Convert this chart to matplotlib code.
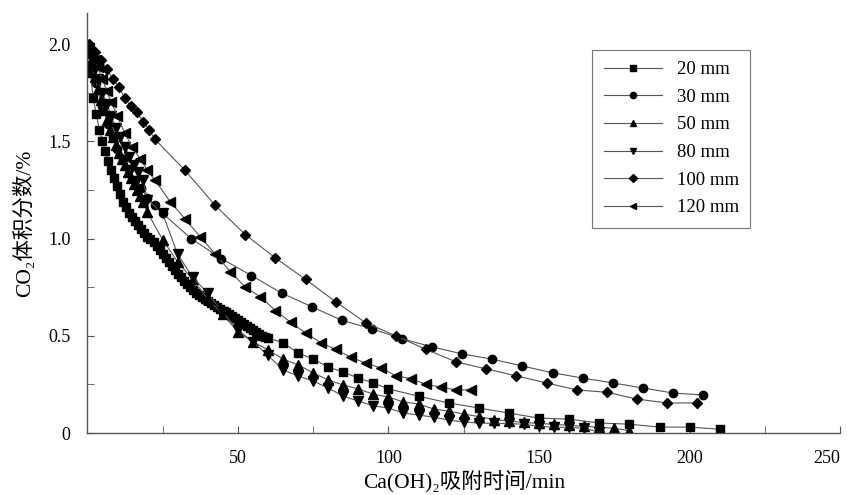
import numpy as np
import matplotlib.pyplot as plt
from matplotlib.ticker import MultipleLocator

plt.rcParams['font.family'] = ['Liberation Serif', 'Noto Sans CJK SC', 'DejaVu Sans']
plt.rcParams['font.size'] = 13

# 20 mm
t20 = [0.5, 1, 2, 3, 4, 5, 6, 7, 8, 9, 10, 11, 12, 13, 14, 15, 16, 17, 18, 19, 20,
       21, 22, 23, 24, 25, 26, 27, 28, 29, 30, 31, 32, 33, 34, 35, 36, 37, 38, 39, 40,
       41, 42, 43, 44, 45, 46, 47, 48, 49, 50, 51, 52, 53, 54, 55, 56, 57, 58, 59, 60,
       65, 70, 75, 80, 85, 90, 95, 100, 110, 120, 130, 140, 150, 160, 170, 180, 190, 200, 210]
c20 = [1.95, 1.85, 1.72, 1.64, 1.56, 1.50, 1.45, 1.40, 1.35, 1.31, 1.27, 1.23, 1.19, 1.16, 1.13,
       1.11, 1.09, 1.07, 1.05, 1.03, 1.01, 1.00, 0.98, 0.96, 0.94, 0.92, 0.90, 0.88, 0.86, 0.84,
       0.82, 0.80, 0.78, 0.765, 0.75, 0.735, 0.72, 0.71, 0.70, 0.69, 0.68, 0.67, 0.66, 0.65, 0.64,
       0.63, 0.62, 0.61, 0.60, 0.59, 0.58, 0.57, 0.56, 0.55, 0.54, 0.53, 0.52, 0.51, 0.50, 0.495, 0.49,
       0.464, 0.412, 0.381, 0.34, 0.314, 0.283, 0.258, 0.227, 0.19, 0.155, 0.129, 0.103, 0.077,
       0.072, 0.052, 0.046, 0.031, 0.031, 0.02]

# 30 mm
t30 = [0.5, 1.5, 3, 5, 7, 8.5, 10, 12, 14, 16, 18, 20, 22.5, 25, 34.5, 44.5, 54.5, 64.5, 74.5,
       84.5, 94.5, 104.5, 114.5, 124.5, 134.5, 144.5, 154.5, 164.5, 174.5, 184.5, 194.5, 204.5]
c30 = [1.98, 1.90, 1.80, 1.68, 1.59, 1.52, 1.46, 1.41, 1.36, 1.30, 1.26, 1.21, 1.17, 1.13, 1.0,
       0.897, 0.81, 0.72, 0.65, 0.58, 0.536, 0.485, 0.443, 0.407, 0.38, 0.345, 0.31, 0.283,
       0.258, 0.232, 0.206, 0.196]

# 50 mm
t50 = [0.5, 1.5, 2.5, 3.5, 4.5, 5.5, 6.5, 7.5, 8.5, 9.5, 10.5, 11.5, 12.5, 13.5, 14.5, 15.5,
       16.5, 17.5, 18.5, 20, 25, 30, 35, 40, 45, 50, 55, 60, 65, 70, 75, 80, 85, 90, 95, 100,
       105, 110, 115, 120, 125, 130, 135, 140, 145, 150, 155, 160, 165, 170, 175, 180]
c50 = [1.97, 1.90, 1.83, 1.77, 1.71, 1.66, 1.61, 1.56, 1.52, 1.48, 1.44, 1.41, 1.38, 1.34, 1.31,
       1.28, 1.25, 1.22, 1.19, 1.134, 0.995, 0.88, 0.79, 0.69, 0.61, 0.52, 0.47, 0.428, 0.381,
       0.35, 0.31, 0.273, 0.247, 0.227, 0.20, 0.186, 0.16, 0.15, 0.124, 0.113, 0.098, 0.085,
       0.07, 0.062, 0.055, 0.05, 0.045, 0.04, 0.035, 0.03, 0.025, 0.012]

# 80 mm
t80 = [0.5, 1.5, 2.5, 3.5, 5, 6.5, 8, 9.5, 11, 12.5, 14, 15.5, 17, 18.5, 20, 25, 30, 35, 40,
       45, 50, 55, 60, 65, 70, 75, 80, 85, 90, 95, 100, 105, 110, 115, 120, 125, 130, 135,
       140, 145, 150, 155, 160, 165, 170]
c80 = [1.98, 1.93, 1.87, 1.82, 1.75, 1.69, 1.63, 1.57, 1.52, 1.47, 1.42, 1.38, 1.34, 1.30, 1.20,
       1.13, 0.92, 0.80, 0.72, 0.62, 0.53, 0.47, 0.40, 0.325, 0.294, 0.268, 0.232, 0.19, 0.165,
       0.14, 0.129, 0.103, 0.093, 0.082, 0.067, 0.057, 0.052, 0.05, 0.05, 0.045, 0.036, 0.03,
       0.03, 0.025, 0.005]

# 100 mm
t100 = [0.5, 2.5, 4.5, 6.5, 8.5, 10.5, 12.5, 14.5, 16.5, 18.5, 20.5, 22.5, 32.5, 42.5, 52.5,
        62.5, 72.5, 82.5, 92.5, 102.5, 112.5, 122.5, 132.5, 142.5, 152.5, 162.5, 172.5, 182.5,
        192.5, 202.5]
c100 = [2.0, 1.96, 1.92, 1.87, 1.82, 1.78, 1.72, 1.68, 1.65, 1.60, 1.56, 1.51, 1.35, 1.17, 1.02,
        0.90, 0.79, 0.675, 0.567, 0.50, 0.43, 0.366, 0.33, 0.294, 0.258, 0.222, 0.21, 0.175,
        0.155, 0.155]

# 120 mm
t120 = [0.5, 1.5, 2.5, 3.5, 5, 6.5, 8, 10, 12.5, 15, 17.5, 20, 22.5, 27.5, 32.5, 37.5, 42.5,
        47.5, 52.5, 57.5, 62.5, 67.5, 72.5, 77.5, 82.5, 87.5, 92.5, 97.5, 102.5, 107.5, 112.5,
        117.5, 122.5, 127.5]
c120 = [1.98, 1.95, 1.92, 1.88, 1.82, 1.76, 1.70, 1.63, 1.54, 1.47, 1.41, 1.35, 1.30, 1.19, 1.10,
        1.01, 0.92, 0.83, 0.75, 0.70, 0.63, 0.57, 0.515, 0.465, 0.43, 0.39, 0.36, 0.335, 0.295,
        0.28, 0.25, 0.237, 0.222, 0.222]

series = [
    (t20, c20, 's', '20 mm', 5.5),
    (t30, c30, 'o', '30 mm', 6),
    (t50, c50, '^', '50 mm', 6.5),
    (t80, c80, 'v', '80 mm', 6.5),
    (t100, c100, 'D', '100 mm', 5.5),
    (t120, c120, '<', '120 mm', 6.5),
]

fig = plt.figure(figsize=(8.47, 4.95), dpi=100)
ax = fig.add_axes([0.103, 0.125, 0.889, 0.849])

for t, c, m, lab, ms in series:
    ax.plot(t, c, color='#555555', lw=0.8, marker=m, ms=ms,
            mfc='black', mec='black', label=lab)

ax.set_xlim(0, 250)
ax.set_ylim(0, 2.16)
ax.xaxis.set_minor_locator(MultipleLocator(25))
ax.yaxis.set_minor_locator(MultipleLocator(0.25))
ax.set_xticks([50, 100, 150, 200, 250])
ax.set_xticklabels(['50', '100', '150', '200', '250'])
ax.set_yticks([0, 0.5, 1.0, 1.5, 2.0])
ax.set_yticklabels(['0', '0.5', '1.0', '1.5', '2.0'])
ax.tick_params(which='both', direction='in', color='#555555', length=5)
ax.tick_params(axis='x', pad=12)
ax.tick_params(axis='y', pad=12)
ax.get_xticklabels()[-1].set_horizontalalignment('right')

for s in ['top', 'right']:
    ax.spines[s].set_visible(False)
for s in ['left', 'bottom']:
    ax.spines[s].set_color('#555555')
    ax.spines[s].set_linewidth(1.0)

ax.set_xlabel('Ca(OH)₂吸附时间/min', labelpad=3, fontsize=15.5)
ax.set_ylabel('CO₂体积分数/%', labelpad=9, fontsize=15.5)

leg = ax.legend(loc='upper left', bbox_to_anchor=(0.671, 0.912), borderaxespad=0,
                fancybox=False, edgecolor='#555555', handlelength=3.1, labelspacing=0.56,
                markerscale=0.75, borderpad=0.6, handletextpad=0.8, fontsize=13.5)
leg.get_frame().set_linewidth(0.8)

fig.savefig('out.png', dpi=100)
